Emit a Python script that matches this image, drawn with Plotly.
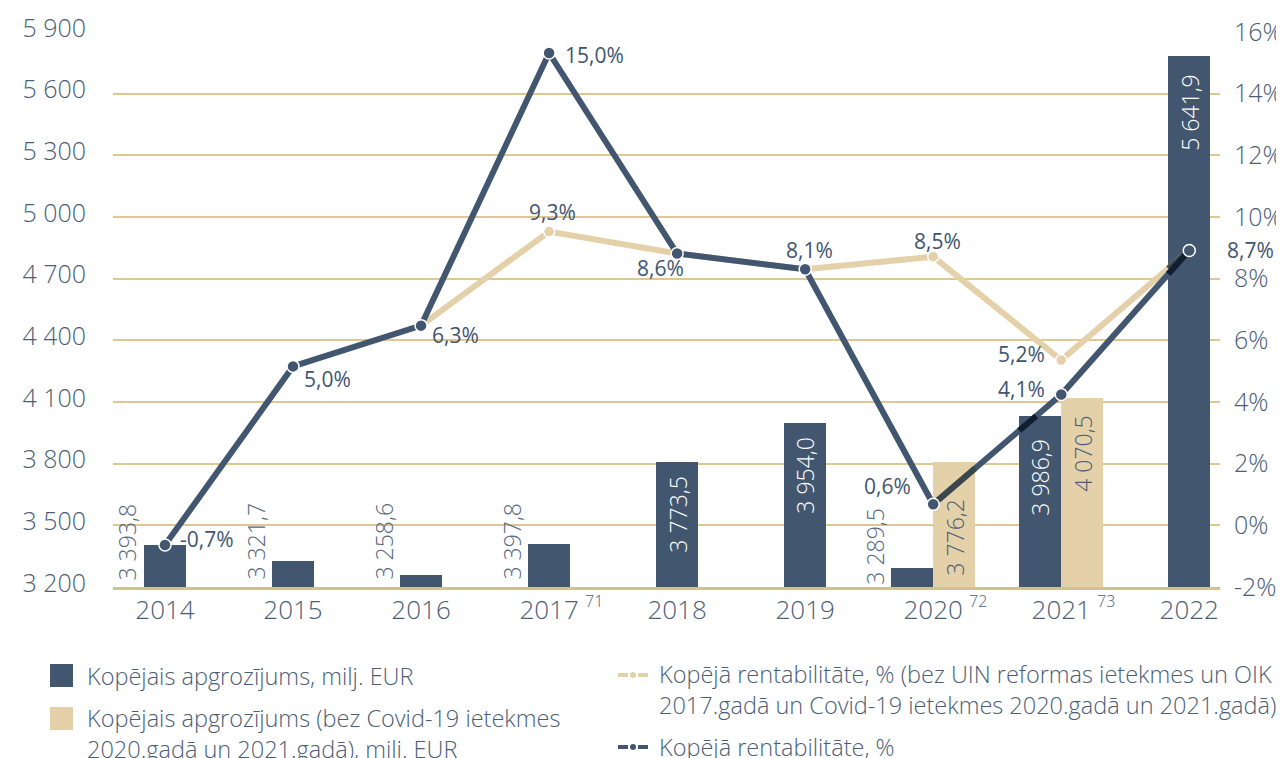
import plotly.graph_objects as go

# ---------------- data ----------------
years = ["2014", "2015", "2016", "2017", "2018", "2019", "2020", "2021", "2022"]
year_notes = ["", "", "", "71", "", "", "72", "73", ""]

# Total turnover, mill. EUR (label as printed, bar height as drawn in the picture)
turnover_labels = ["3 393,8", "3 321,7", "3 258,6", "3 397,8", "3 773,5",
                   "3 954,0", "3 289,5", "3 986,9", "5 641,9"]
turnover_heights = [3404, 3326, 3258, 3409, 3808, 3998, 3292, 4032, 5783]

# Turnover without Covid-19 impact
adj_years = ["2020", "2021"]
adj_turnover_labels = ["3 776,2", "4 070,5"]
adj_turnover_heights = [3808, 4119]

# Total profitability, %
profitability = [-0.7, 5.0, 6.3, 15.0, 8.6, 8.1, 0.6, 4.1, 8.7]
prof_labels = ["-0,7%", "5,0%", "6,3%", "15,0%", "8,6%", "8,1%", "0,6%", "4,1%", "8,7%"]

# Profitability without UIN reform / OIK / Covid-19 impact, %
adj_prof_years = ["2016", "2017", "2018", "2019", "2020", "2021", "2022"]
adj_profitability = [6.3, 9.3, 8.6, 8.1, 8.5, 5.2, 8.7]
adj_prof_labels = ["", "9,3%", "", "", "8,5%", "5,2%", ""]

left_ticks = [3200, 3500, 3800, 4100, 4400, 4700, 5000, 5300, 5600, 5900]
right_ticks = [-2, 0, 2, 4, 6, 8, 10, 12, 14, 16]

legend_items = [
    "Kopējais apgrozījums, milj. EUR",
    "Kopējais apgrozījums (bez Covid-19 ietekmes<br>2020.gadā un 2021.gadā), milj. EUR",
    "Kopējā rentabilitāte, % (bez UIN reformas ietekmes un OIK<br>2017.gadā un Covid-19 ietekmes 2020.gadā un 2021.gadā)",
    "Kopējā rentabilitāte, %",
]

# ---------------- style ----------------
DARK = "#42576f"
BEIGE = "#e4d1a9"
GRID = "#dfc792"
TXT = "#4b5e76"
FONT = "Open Sans"
W, H = 1284, 758
OFF = 8                                 # page offset of the figure (body margin)
PL, PR, PT, PB = 113, 1220, 32, 587     # plot area in page pixels
BW = 0.328                              # bar width (x units)
Y3 = [-2.04, 15.67]                     # range of the (hidden) profitability data axis


def px2x(px):
    return (px - PL) / (PR - PL)


def py2y(py):
    return (PB - py) / (PB - PT)


def left_to_y3(v):
    return Y3[0] + (v - left_ticks[0]) / (left_ticks[-1] - left_ticks[0]) * (Y3[1] - Y3[0])


def multiply(c1, c2):
    a = [int(c1[i:i + 2], 16) for i in (1, 3, 5)]
    b = [int(c2[i:i + 2], 16) for i in (1, 3, 5)]
    return "#" + "".join(f"{round(p * q / 255):02x}" for p, q in zip(a, b))


def clip(x0, y0, x1, y1, xmin, xmax, ymin, ymax):
    dx, dy = x1 - x0, y1 - y0
    t0, t1 = 0.0, 1.0
    for p, q in ((-dx, x0 - xmin), (dx, xmax - x0), (-dy, y0 - ymin), (dy, ymax - y0)):
        if p == 0:
            if q < 0:
                return None
        else:
            t = q / p
            if p < 0:
                t0 = max(t0, t)
            else:
                t1 = min(t1, t)
    if t1 - t0 < 0.02:
        return None
    return (x0 + t0 * dx, y0 + t0 * dy, x0 + t1 * dx, y0 + t1 * dy)


idx = {y: i for i, y in enumerate(years)}
paired = set(adj_years)
xi = list(range(len(years)))
adj_xi = [idx[y] for y in adj_years]
adj_prof_xi = [idx[y] for y in adj_prof_years]

dark_offsets = [-BW if y in paired else -BW / 2 for y in years]

# bar rectangles (x0, x1, top in y3 units, colour) for line/bar blending
bar_rects = [(i + dark_offsets[i], i + dark_offsets[i] + BW, left_to_y3(h), DARK)
             for i, h in enumerate(turnover_heights)]
bar_rects += [(x, x + BW, left_to_y3(h), BEIGE) for x, h in zip(adj_xi, adj_turnover_heights)]


def overlay_traces(xs, ys, color):
    out = []
    for k in range(len(xs) - 1):
        for (bx0, bx1, top, bcol) in bar_rects:
            seg = clip(xs[k], ys[k], xs[k + 1], ys[k + 1], bx0, bx1, Y3[0], top)
            if seg:
                out.append(go.Scatter(
                    x=[seg[0], seg[2]], y=[seg[1], seg[3]], yaxis="y3", mode="lines",
                    line=dict(color=multiply(color, bcol), width=6),
                    showlegend=False, hoverinfo="skip"))
    return out


fig = go.Figure()

fig.add_trace(go.Bar(
    x=xi, y=turnover_heights, width=BW, offset=dark_offsets,
    marker=dict(color=DARK, line=dict(width=0)), yaxis="y", hoverinfo="skip",
    showlegend=False))
fig.add_trace(go.Bar(
    x=adj_xi, y=adj_turnover_heights, width=BW, offset=0,
    marker=dict(color=BEIGE, line=dict(width=0)), yaxis="y", hoverinfo="skip",
    showlegend=False))

# empty trace so that the right-hand % axis is drawn
fig.add_trace(go.Scatter(x=[None], y=[None], yaxis="y2", mode="markers",
                         showlegend=False, hoverinfo="skip"))

# adjusted profitability line
fig.add_trace(go.Scatter(
    x=adj_prof_xi, y=adj_profitability, yaxis="y3", mode="lines",
    line=dict(color=BEIGE, width=6), showlegend=False, hoverinfo="skip"))
for t in overlay_traces(adj_prof_xi, adj_profitability, BEIGE):
    fig.add_trace(t)
fig.add_trace(go.Scatter(
    x=adj_prof_xi, y=adj_profitability, yaxis="y3", mode="markers",
    marker=dict(size=11, color=BEIGE, line=dict(color="white", width=1.5)),
    showlegend=False, hoverinfo="skip"))

# total profitability line
fig.add_trace(go.Scatter(
    x=xi, y=profitability, yaxis="y3", mode="lines",
    line=dict(color=DARK, width=6), showlegend=False, hoverinfo="skip"))
for t in overlay_traces(xi, profitability, DARK):
    fig.add_trace(t)
fig.add_trace(go.Scatter(
    x=xi, y=profitability, yaxis="y3", mode="markers",
    marker=dict(size=12, color=DARK, line=dict(color="white", width=1.5)),
    showlegend=False, hoverinfo="skip"))

ann = []

# bar value labels (rotated)
dark_place = [("out", 5), ("out", 5), ("out", 5), ("out", 5), ("top", 12),
              ("top", 12), ("out", 0), ("top", 21), ("top", 16)]
for i, (lab, h) in enumerate(zip(turnover_labels, turnover_heights)):
    mode, gap = dark_place[i]
    cx = i + dark_offsets[i] + BW / 2
    if mode == "out":
        ann.append(dict(x=cx, y=left_ticks[0], xref="x", yref="y", text=lab,
                        textangle=-90, xanchor="center", yanchor="bottom",
                        xshift=-38, yshift=gap, showarrow=False,
                        font=dict(family=FONT, size=23, color="#56687e", weight=300)))
    else:
        ann.append(dict(x=cx, y=h, xref="x", yref="y", text=lab,
                        textangle=-90, xanchor="center", yanchor="top",
                        yshift=-gap, showarrow=False,
                        font=dict(family=FONT, size=23, color="white", weight=300)))

adj_place = [("base", 9), ("top", 15)]
for j, (x, lab, h) in enumerate(zip(adj_xi, adj_turnover_labels, adj_turnover_heights)):
    mode, gap = adj_place[j]
    cx = x + BW / 2
    if mode == "base":
        ann.append(dict(x=cx, y=left_ticks[0], xref="x", yref="y", text=lab,
                        textangle=-90, xanchor="center", yanchor="bottom",
                        yshift=gap, showarrow=False,
                        font=dict(family=FONT, size=23, color=TXT, weight=300)))
    else:
        ann.append(dict(x=cx, y=h, xref="x", yref="y", text=lab,
                        textangle=-90, xanchor="center", yanchor="top",
                        yshift=-gap, showarrow=False,
                        font=dict(family=FONT, size=23, color=TXT, weight=300)))

# percent labels (anchor, xshift, yshift)
prof_place = [("left", 13, 6), ("left", 9, -13), ("left", 9, -9), ("left", 14, -2),
              ("center", -17, -14), ("center", 4, 19), ("center", -46, 18),
              ("center", -40, 6), ("left", 36, 0)]
for i, (v, lab) in enumerate(zip(profitability, prof_labels)):
    xa, xs, ys = prof_place[i]
    ann.append(dict(x=i, y=v, xref="x", yref="y3", text=lab, showarrow=False,
                    xanchor=xa, yanchor="middle", xshift=xs, yshift=ys,
                    font=dict(family=FONT, size=21, color="#3f5570")))

adj_place_lbl = {"2017": (3, 20), "2020": (4, 16), "2021": (-40, 6)}
for yr, v, lab in zip(adj_prof_years, adj_profitability, adj_prof_labels):
    if lab:
        xs, ys = adj_place_lbl[yr]
        ann.append(dict(x=idx[yr], y=v, xref="x", yref="y3", text=lab, showarrow=False,
                        xanchor="center", yanchor="middle", xshift=xs, yshift=ys,
                        font=dict(family=FONT, size=21, color="#3f5570")))

# footnote superscripts on year labels
for i, note in enumerate(year_notes):
    if note:
        ann.append(dict(x=i, y=py2y(601), xref="x", yref="paper", text=note,
                        showarrow=False, xanchor="center", yanchor="middle",
                        xshift=45, font=dict(family=FONT, size=16, color=TXT, weight=300)))

# ---------------- legend (drawn) ----------------
shapes = []
shapes.append(dict(type="rect", xref="paper", yref="paper", x0=px2x(50), x1=px2x(73),
                   y0=py2y(687), y1=py2y(664), fillcolor=DARK, line=dict(width=0)))
shapes.append(dict(type="rect", xref="paper", yref="paper", x0=px2x(50), x1=px2x(73),
                   y0=py2y(730), y1=py2y(707), fillcolor=BEIGE, line=dict(width=0)))
for cy, col in [(675, BEIGE), (747, DARK)]:
    shapes.append(dict(type="line", xref="paper", yref="paper", x0=px2x(618), x1=px2x(628),
                       y0=py2y(cy), y1=py2y(cy), line=dict(color=col, width=4)))
    shapes.append(dict(type="line", xref="paper", yref="paper", x0=px2x(638), x1=px2x(648),
                       y0=py2y(cy), y1=py2y(cy), line=dict(color=col, width=4)))
    shapes.append(dict(type="circle", xref="paper", yref="paper", x0=px2x(630), x1=px2x(636),
                       y0=py2y(cy + 3), y1=py2y(cy - 3), fillcolor=col, line=dict(width=0)))

leg_pos = [(85, 676), (85, 733), (657, 690), (657, 747)]
for txt, (lx, ly) in zip(legend_items, leg_pos):
    ann.append(dict(x=px2x(lx), y=py2y(ly), xref="paper", yref="paper", text=txt,
                    showarrow=False, xanchor="left", yanchor="middle", align="left",
                    font=dict(family=FONT, size=23.5, color=TXT, weight=300)))

fig.update_layout(
    width=W, height=H, autosize=False,
    margin=dict(l=PL - OFF, r=W - (PR - OFF), t=PT - OFF, b=H - (PB - OFF), pad=0,
                autoexpand=False),
    paper_bgcolor="white", plot_bgcolor="white",
    barmode="overlay", bargap=0,
    showlegend=False,
    font=dict(family=FONT, color=TXT),
    xaxis=dict(type="linear", range=[-0.406, 8.24], tickvals=xi, ticktext=years,
               showgrid=False, zeroline=False, automargin=False,
               showline=True, linecolor="#d8bf86", linewidth=2.5, ticks="",
               tickfont=dict(family=FONT, size=26, color=TXT, weight=300),
               ticklabelstandoff=-2),
    yaxis=dict(range=[left_ticks[0], left_ticks[-1]], tickvals=left_ticks,
               ticktext=[f"{v:,}".replace(",", " ") for v in left_ticks],
               showgrid=True, gridcolor=GRID, gridwidth=1.5, zeroline=False,
               showline=False, ticks="", ticklabelstandoff=26, ticklabelshift=-4,
               automargin=False,
               tickfont=dict(family=FONT, size=25, color=TXT, weight=300)),
    yaxis2=dict(overlaying="y", side="right", range=[right_ticks[0], right_ticks[-1]],
                tickvals=right_ticks, ticktext=[f"{v}%" for v in right_ticks],
                showgrid=False, zeroline=False, showline=False, ticks="",
                ticklabelstandoff=13, automargin=False,
                tickfont=dict(family=FONT, size=25, color=TXT, weight=300)),
    yaxis3=dict(overlaying="y", range=Y3, visible=False, automargin=False),
    annotations=ann,
    shapes=shapes,
)

fig.write_html("out.html")
